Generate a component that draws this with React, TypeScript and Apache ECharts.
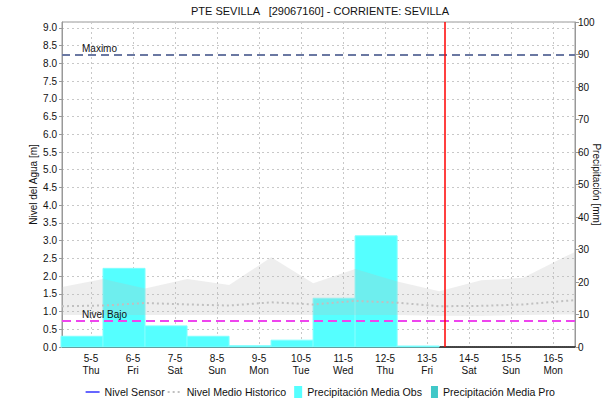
import React, { useEffect, useRef } from "react";
import * as echarts from "echarts";

// ---- data ----
const titleText = "PTE SEVILLA   [29067160] - CORRIENTE: SEVILLA";
const dayLabels = ["5-5", "6-5", "7-5", "8-5", "9-5", "10-5", "11-5", "12-5", "13-5", "14-5", "15-5", "16-5"];
const weekDays = ["Thu", "Fri", "Sat", "Sun", "Mon", "Tue", "Wed", "Thu", "Fri", "Sat", "Sun", "Mon"];
// x in days from 5-5 00:00
const xMin = -0.69;
const xMax = 11.52;
const nowDay = 8.42;
// precipitation observed (mm), day index of each daily total (7h-7h)
const precipDays = [0, 1, 2, 3, 4, 5, 6, 7, 8];
const precipObs = [3.3, 24.2, 6.5, 3.3, 0.4, 2.1, 15.0, 34.2, 0.3];
// historic band and mean (m)
const histDays = [-0.69, 0.29, 1.29, 2.29, 3.29, 4.29, 5.29, 6.29, 7.29, 8.29, 9.29, 10.29, 11.29, 11.52];
const histMax = [1.69, 1.92, 1.65, 1.92, 1.75, 2.53, 1.8, 2.2, 1.85, 1.57, 1.88, 1.95, 2.55, 2.68];
const histMin = [0.9, 0.9, 0.9, 0.9, 0.9, 0.9, 0.9, 0.9, 0.9, 0.88, 0.88, 0.9, 0.92, 0.92];
const histMean = [1.15, 1.17, 1.24, 1.2, 1.17, 1.26, 1.2, 1.3, 1.25, 1.15, 1.16, 1.2, 1.3, 1.32];
const nivelMaximo = 8.25;
const nivelBajo = 0.75;
const leftMax = 9.1667;
const rightMax = 100;

const FONT = "Liberation Sans, Arial, sans-serif";

export default function App() {
  const ref = useRef<HTMLDivElement>(null);
  useEffect(() => {
    if (!ref.current) return;
    const chart = echarts.init(ref.current, undefined, { renderer: "svg" });
    const tickIdx = dayLabels.map((_, i) => i);
    const option: any = {
      animation: false,
      textStyle: { fontFamily: FONT },
      graphic: [
        {
          type: "text",
          x: 320,
          y: 5,
          style: { text: titleText, fontFamily: FONT, fontSize: 11, fill: "#111", textAlign: "center", textVerticalAlign: "top" },
        },
      ],
      grid: {
        left: 62, right: 35, top: 22, bottom: 58,
        outerBoundsMode: "none", containLabel: false,
        show: true, borderColor: "#999", borderWidth: 1, backgroundColor: "transparent",
      },
      legend: {
        left: 80,
        bottom: 2,
        itemWidth: 14,
        itemHeight: 12,
        itemGap: 2,
        textStyle: { fontFamily: FONT, fontSize: 10.6, color: "#111" },
        data: [
          {
            name: "Nivel Sensor",
            itemStyle: { opacity: 0 },
            lineStyle: { color: "#0000FF", width: 1.2, type: "solid", opacity: 1 },
          },
          {
            name: "Nivel Medio Historico",
            itemStyle: { opacity: 0 },
            lineStyle: { color: "#c0c0c0", width: 2, type: [2, 3], opacity: 1 },
          },
          { name: "Precipitación Media Obs", icon: "path://M0,12 M6,0H14V12H6Z" },
          { name: "Precipitación Media Pro", icon: "path://M0,12 M7,0H14V12H7Z" },
        ],
      },
      xAxis: {
        type: "value",
        min: xMin,
        max: xMax,
        axisLine: { show: true, onZero: false, lineStyle: { color: "#444", width: 2, type: [1, 1] } },
        axisTick: { show: false, customValues: tickIdx },
        axisLabel: {
          customValues: tickIdx,
          fontFamily: FONT,
          fontSize: 10,
          color: "#111",
          lineHeight: 12,
          margin: 5,
          formatter: (v: number) => `${dayLabels[Math.round(v)]}\n${weekDays[Math.round(v)]}`,
        },
        splitLine: { show: true, lineStyle: { color: "#c8c8c8", type: [2, 3] } },
      },
      yAxis: [
        {
          type: "value",
          min: 0,
          max: leftMax,
          interval: 0.5,
          name: "Nivel del Agua [m]",
          nameLocation: "middle",
          nameGap: 24,
          nameMoveOverlap: false,
          nameTextStyle: { fontFamily: FONT, fontSize: 10, color: "#111" },
          axisLine: { show: true, onZero: false, lineStyle: { color: "#999" } },
          axisTick: { show: true, length: 3, lineStyle: { color: "#999" } },
          axisLabel: { fontFamily: FONT, fontSize: 10, color: "#111", margin: 5, showMaxLabel: false, formatter: (v: number) => v.toFixed(1) },
          splitLine: { show: true, lineStyle: { color: "#c8c8c8", type: [2, 3] } },
        },
        {
          type: "value",
          min: 0,
          max: rightMax,
          interval: 10,
          position: "right",
          name: "Precipitación [mm]",
          nameLocation: "middle",
          nameRotate: -90,
          nameGap: 16,
          nameMoveOverlap: false,
          nameTextStyle: { fontFamily: FONT, fontSize: 10, color: "#111" },
          axisLine: { show: true, onZero: false, lineStyle: { color: "#999" } },
          axisTick: { show: true, length: 4, lineStyle: { color: "#999" } },
          axisLabel: { fontFamily: FONT, fontSize: 10, color: "#111", margin: 3 },
          splitLine: { show: false },
        },
      ],
      series: [
        {
          name: "Precipitación Media Obs",
          type: "custom",
          yAxisIndex: 1,
          z: 1,
          itemStyle: { color: "#55FFFF" },
          encode: { x: 0, y: 1 },
          data: precipDays.map((d, i) => [d, precipObs[i]]),
          renderItem: (params: any, api: any) => {
            const d = api.value(0);
            const v = api.value(1);
            const p0 = api.coord([d - 0.714, v]);
            const p1 = api.coord([d + 0.286, 0]);
            return {
              type: "rect",
              shape: { x: p0[0], y: p0[1], width: p1[0] - p0[0], height: p1[1] - p0[1] },
              style: { fill: "#55FFFF", stroke: "#80FFFF", lineWidth: 1 },
            };
          },
        },
        {
          name: "Precipitación Media Pro",
          type: "custom",
          yAxisIndex: 1,
          itemStyle: { color: "#40C8C8" },
          data: [],
          renderItem: () => null,
        },
        {
          name: "histBand",
          type: "custom",
          silent: true,
          z: 2,
          encode: { x: 0, y: [1, 2] },
          data: histDays.map((d, i) => [d, histMin[i], histMax[i]]),
          renderItem: (params: any, api: any) => {
            if (params.dataIndex !== 0) return null;
            const upper = histDays.map((d, i) => api.coord([d, histMax[i]]));
            const lower = histDays.map((d, i) => api.coord([d, histMin[i]])).reverse();
            return {
              type: "polygon",
              shape: { points: upper.concat(lower) },
              style: { fill: "rgba(189,189,189,0.25)" },
            };
          },
          markLine: {
            silent: true,
            symbol: "none",
            z: 6,
            emphasis: { disabled: true },
            lineStyle: { color: "#FF0000", width: 1.5, type: "solid", opacity: 1 },
            label: { show: false },
            data: [{ xAxis: nowDay }],
          },
        },
        {
          name: "Nivel Sensor",
          type: "line",
          symbol: "none",
          itemStyle: { color: "#0000FF" },
          lineStyle: { color: "#0000FF", width: 1 },
          data: [],
        },
        {
          name: "Nivel Medio Historico",
          type: "line",
          symbol: "none",
          z: 3,
          itemStyle: { color: "#c0c0c0" },
          lineStyle: { color: "#c0c0c0", width: 2, type: [2, 3] },
          data: histDays.map((d, i) => [d, histMean[i]]),
          markLine: {
            silent: true,
            symbol: "none",
            z: 5,
            data: [
              {
                yAxis: nivelMaximo,
                lineStyle: { color: "#6A78A2", width: 2, type: [8, 5] },
                label: { show: true, formatter: "Maximo", position: "insideStartTop", distance: [20, 1], color: "#111", fontFamily: FONT, fontSize: 10 },
              },
              {
                yAxis: nivelBajo,
                lineStyle: { color: "#EE44EE", width: 2, type: [9, 5] },
                label: { show: true, formatter: "Nivel Bajo", position: "insideStartTop", distance: [20, 1], color: "#111", fontFamily: FONT, fontSize: 10 },
              },
            ],
          },
        },
      ],
    };
    chart.setOption(option);
    return () => chart.dispose();
  }, []);
  return <div ref={ref} style={{ width: 610, height: 405, position: "absolute", left: 0, top: 0 }} />;
}
